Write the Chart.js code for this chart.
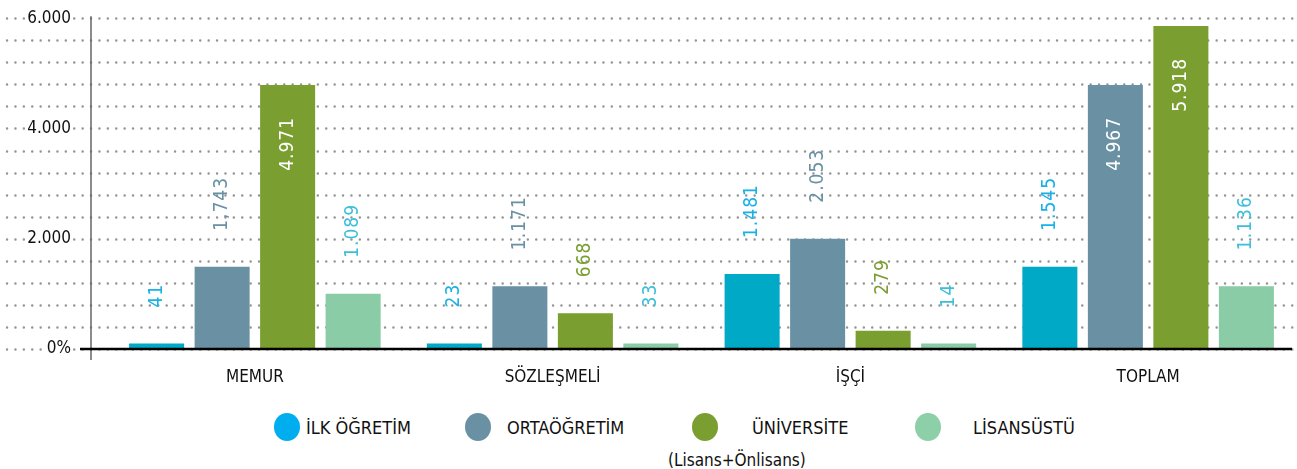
<!DOCTYPE html>
<html lang="tr">
<head>
<meta charset="utf-8">
<title>Eğitim durumu</title>
<script src="https://cdn.jsdelivr.net/npm/chart.js@4.4.1/dist/chart.umd.min.js"></script>
<style>
    html, body { margin: 0; padding: 0; background: #fff; }
    body { width: 1297px; height: 469px; position: relative; overflow: hidden;
           font-family: "Liberation Sans Narrow", "DejaVu Sans Condensed", sans-serif; }
    /* canvas starts above the page: the y ticks keep some empty room over the plot */
    #wrap { position: absolute; left: 0; top: -27px; width: 1297px; height: 427px; }
    .leg { position: absolute; top: 413px; height: 28px; font-size: 18px; color: #111; }
    .leg .dot { position: absolute; top: 0; width: 26px; height: 28px; border-radius: 50%; }
    .leg .txt { position: absolute; top: 4px; white-space: nowrap; }
    .leg .sub { position: absolute; top: 37px; white-space: nowrap; font-size: 17px; }
</style>
</head>
<body>
<div id="wrap"><canvas id="egitimChart"></canvas></div>
<div id="legend"></div>
<script>
// categories and series
const categories = ['MEMUR', 'SÖZLEŞMELİ', 'İŞÇİ', 'TOPLAM'];
const seriesNames = ['İLK ÖĞRETİM', 'ORTAÖĞRETİM', 'ÜNİVERSİTE', 'LİSANSÜSTÜ'];
const seriesNote = ['', '', '(Lisans+Önlisans)', ''];

// bar heights as drawn in the picture
const ilkOgretim = [100, 100, 1360, 1490];
const ortaOgretim = [1490, 1140, 2000, 4790];
const universite = [4790, 650, 330, 5860];
const lisansustu = [1000, 100, 100, 1140];

// numbers printed on the bars
const ilkOgretimText = ['41', '23', '1.481', '1.545'];
const ortaOgretimText = ['1,743', '1.171', '2.053', '4.967'];
const universiteText = ['4.971', '668', '279', '5.918'];
const lisansustuText = ['1.089', '33', '14', '1.136'];

const yTickLabels = { 0: '0%', 2000: '2.000', 4000: '4.000', 6000: '6.000' };

const barColors = ['#00a9c5', '#6991a3', '#7a9e2f', '#89cca6'];
const textColors = ['#1ab2e6', '#6991a3', '#7a9e2f', '#3cbfd9'];
const legendColors = ['#00aeef', '#6991a3', '#7a9e2f', '#8ccfa8'];

const FONT = '"Liberation Sans Narrow", "DejaVu Sans Condensed", sans-serif';
const allValues = [ilkOgretim, ortaOgretim, universite, lisansustu];
const allTexts = [ilkOgretimText, ortaOgretimText, universiteText, lisansustuText];

// dotted grid lines, axis lines
const gridDotsPlugin = {
    id: 'gridDots',
    beforeDraw(chart) {
        const { ctx, scales } = chart;
        const y = scales.y;
        ctx.save();
        ctx.strokeStyle = '#959595';
        ctx.lineWidth = 2.4;
        ctx.lineCap = 'round';
        ctx.setLineDash([0.1, 8.3]);
        y.ticks.forEach(t => {
            const py = Math.round(y.getPixelForValue(t.value)) + 0.5;
            ctx.beginPath();
            ctx.moveTo(7, py);
            ctx.lineTo(chart.width, py);
            ctx.stroke();
        });
        ctx.restore();
    },
    afterDatasetsDraw(chart) {
        const { ctx, chartArea, scales } = chart;
        const zero = scales.y.getPixelForValue(0);
        ctx.save();
        ctx.strokeStyle = '#666';
        ctx.lineWidth = 1.5;
        ctx.beginPath();
        ctx.moveTo(chartArea.left - 15, chartArea.top - 2);
        ctx.lineTo(chartArea.left - 15, zero + 11);
        ctx.stroke();
        ctx.strokeStyle = '#000';
        ctx.lineWidth = 2.5;
        ctx.beginPath();
        ctx.moveTo(80, zero);
        ctx.lineTo(chartArea.right - 5, zero);
        ctx.stroke();
        ctx.restore();
    }
};

// rotated value labels
const valueLabelPlugin = {
    id: 'valueLabels',
    afterDatasetsDraw(chart) {
        const { ctx } = chart;
        ctx.save();
        ctx.font = '19px ' + FONT;
        ctx.textBaseline = 'middle';
        chart.data.datasets.forEach((ds, i) => {
            chart.getDatasetMeta(i).data.forEach((bar, j) => {
                const text = allTexts[i][j];
                const inside = ds.data[j] > 4000;
                ctx.save();
                if (inside) {
                    ctx.translate(bar.x, bar.y + 32);
                    ctx.rotate(-Math.PI / 2);
                    ctx.textAlign = 'right';
                    ctx.fillStyle = '#ffffff';
                } else {
                    ctx.translate(bar.x, bar.y - 36);
                    ctx.rotate(-Math.PI / 2);
                    ctx.textAlign = 'left';
                    ctx.fillStyle = textColors[i];
                }
                if ('letterSpacing' in ctx) ctx.letterSpacing = '1px';
                ctx.fillText(text, 0, 0);
                ctx.restore();
            });
        });
        ctx.restore();
    }
};

const initEgitimChart = () => {
    const ctx = document.getElementById('egitimChart').getContext('2d');
    new Chart(ctx, {
        type: 'bar',
        data: {
            labels: categories,
            datasets: seriesNames.map((name, i) => ({
                label: name,
                data: allValues[i],
                backgroundColor: barColors[i],
                borderWidth: 0,
                barPercentage: 0.84,
                categoryPercentage: 0.88
            }))
        },
        options: {
            responsive: true,
            maintainAspectRatio: false,
            animation: false,
            layout: { autoPadding: false, padding: { top: 18, right: 0, left: 0, bottom: 0 } },
            plugins: {
                legend: { display: false },
                tooltip: { enabled: false }
            },
            scales: {
                x: {
                    afterFit: (scale) => { scale.height = 51; },
                    grid: { display: false, drawTicks: false },
                    border: { display: false },
                    ticks: {
                        color: '#111',
                        padding: 18,
                        font: { family: FONT, size: 17 }
                    }
                },
                y: {
                    min: 0,
                    max: 6000,
                    afterFit: (scale) => { scale.width = 106; },
                    grid: { display: false, drawTicks: false },
                    border: { display: false },
                    ticks: {
                        stepSize: 400,
                        autoSkip: false,
                        padding: 35,
                        color: '#111',
                        font: { family: FONT, size: 17 },
                        showLabelBackdrop: true,
                        backdropColor: '#ffffff',
                        backdropPadding: { top: 0, bottom: 0, left: 1, right: 2 },
                        callback: (v) => yTickLabels[v] !== undefined ? yTickLabels[v] : ''
                    }
                }
            }
        },
        plugins: [gridDotsPlugin, valueLabelPlugin]
    });
};

// legend under the chart
const legendLeft = [274, 465, 692, 915];
const legendTextGap = [32, 42, 60, 58];
const buildLegend = () => {
    const box = document.getElementById('legend');
    seriesNames.forEach((name, i) => {
        const item = document.createElement('div');
        item.className = 'leg';
        item.style.left = legendLeft[i] + 'px';
        item.innerHTML = '<div class="dot" style="background:' + legendColors[i] + '"></div>' +
            '<div class="txt" style="left:' + legendTextGap[i] + 'px">' + name + '</div>' +
            (seriesNote[i] ? '<div class="sub" style="left:-24px">' + seriesNote[i] + '</div>' : '');
        box.appendChild(item);
    });
};

document.addEventListener('DOMContentLoaded', () => {
    buildLegend();
    initEgitimChart();
});
</script>
</body>
</html>
